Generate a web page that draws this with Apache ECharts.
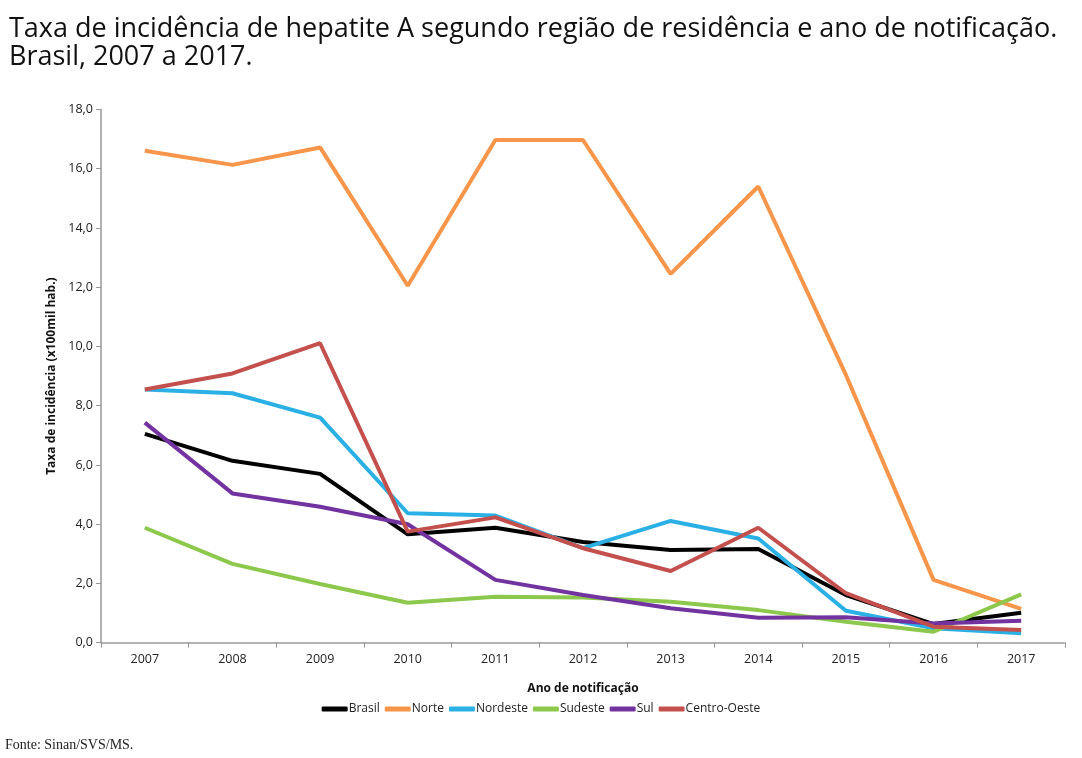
<!DOCTYPE html>
<html><head><meta charset="utf-8">
<script src="https://cdn.jsdelivr.net/npm/echarts@6/dist/echarts.min.js"></script>
<style>html,body{margin:0;padding:0;background:#fff;}#c{width:1082px;height:758px;}</style>
</head><body><div id="c"></div>
<script>
var years = ['2007','2008','2009','2010','2011','2012','2013','2014','2015','2016','2017'];
var brasil = [7.05,6.14,5.70,3.66,3.88,3.40,3.13,3.16,1.61,0.63,1.01];
var norte = [16.61,16.13,16.72,12.05,16.97,16.97,12.45,15.40,9.04,2.12,1.14];
var nordeste = [8.55,8.42,7.60,4.37,4.29,3.19,4.11,3.52,1.08,0.49,0.32];
var sudeste = [3.88,2.66,1.98,1.35,1.55,1.53,1.38,1.10,0.71,0.37,1.63];
var sul = [7.43,5.04,4.59,4.00,2.12,1.61,1.16,0.84,0.86,0.65,0.74];
var centroOeste = [8.55,9.09,10.11,3.75,4.23,3.19,2.42,3.88,1.67,0.54,0.43];

var names = ['Brasil','Norte','Nordeste','Sudeste','Sul','Centro-Oeste'];
var datas = [brasil,norte,nordeste,sudeste,sul,centroOeste];
var colors = ['#000000','#F7964A','#2BB0E5','#8CC84B','#7232A0','#C4504D'];

var chart = echarts.init(document.getElementById('c'));
var axisFont = {fontFamily:'Open Sans', fontSize:12.5, color:'#222'};
chart.setOption({
  animation:false,
  color: colors,
  title: [{
    text: 'Taxa de incidência de hepatite A segundo região de residência e ano de notificação.\nBrasil, 2007 a 2017.',
    left: 4, top: 10,
    textStyle: {fontFamily:'Open Sans', fontSize:27, fontWeight:'normal', color:'#111', lineHeight:28}
  },{
    text: 'Fonte: Sinan/SVS/MS.',
    left: 0, top: 733,
    textStyle: {fontFamily:'Liberation Serif', fontSize:14, fontWeight:'normal', color:'#222'}
  }],
  legend: {
    data: names,
    left: 'center', top: 698,
    itemWidth: 26, itemHeight: 5, itemGap: 5,
    icon: 'roundRect',
    textStyle: {fontFamily:'Open Sans', fontSize:12, color:'#222', padding:[0,0,0,-4]}
  },
  grid: {left:101, right:17, top:109.5, bottom:115.3, containLabel:false},
  xAxis: {
    type:'category', data: years, boundaryGap:true,
    name:'Ano de notificação', nameLocation:'middle', nameGap:40,
    nameTextStyle:{fontFamily:'Open Sans', fontSize:12, fontWeight:'bold', color:'#111'},
    axisLine:{lineStyle:{color:'#999', width:1.5}},
    axisTick:{show:true, length:5, lineStyle:{color:'#999'}},
    axisLabel: Object.assign({margin:10}, axisFont)
  },
  yAxis: {
    type:'value', min:0, max:18, interval:2,
    name:'Taxa de incidência (x100mil hab.)', nameLocation:'middle', nameGap:35,
    nameTextStyle:{fontFamily:'Open Sans', fontSize:12, fontWeight:'bold', color:'#111'},
    axisLine:{show:true, lineStyle:{color:'#999', width:1.5}},
    axisTick:{show:true, length:5, lineStyle:{color:'#999'}},
    splitLine:{show:false},
    axisLabel: Object.assign({margin:8, formatter:function(v){return v.toFixed(1).replace('.',',');}}, axisFont)
  },
  series: names.map(function(n,i){
    return {name:n, type:'line', data:datas[i], symbol:'none',
      lineStyle:{width:4, color:colors[i]}, itemStyle:{color:colors[i]}};
  })
});
</script></body></html>
